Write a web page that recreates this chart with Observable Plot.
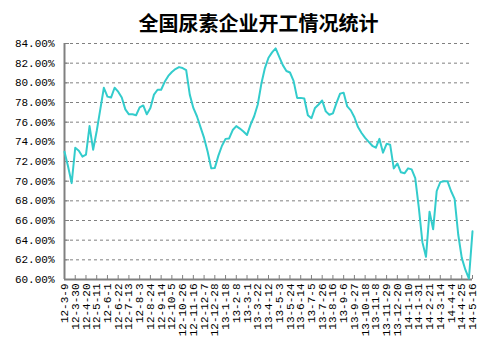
<!DOCTYPE html>
<html>
<head>
<meta charset="utf-8">
<script src="https://cdn.jsdelivr.net/npm/d3@7"></script>
<script src="https://cdn.jsdelivr.net/npm/@observablehq/plot@0.6"></script>
<style>
  html, body { margin: 0; padding: 0; background: #fff; }
  #title { height: 30px; box-sizing: border-box; padding-top: 13px; width: 503px; text-align: center;
    font-family: "Noto Sans CJK SC", sans-serif; font-weight: 700; font-size: 20px; line-height: 20px;
    color: #000; padding-left: 14px; overflow: visible; position: relative; z-index: 2; }
  #chart svg { background: transparent !important; }
</style>
</head>
<body>
<div id="title">全国尿素企业开工情况统计</div>
<div id="chart"></div>
<script>
const tickLabels = ["12-3-9","12-3-30","12-4-20","12-5-11","12-6-1","12-6-22","12-7-13","12-8-3","12-8-24","12-9-14","12-10-5","12-10-26","12-11-16","12-12-7","12-12-28","13-1-18","13-2-8","13-3-1","13-3-22","13-4-12","13-5-3","13-5-24","13-6-14","13-7-5","13-7-26","13-8-16","13-9-6","13-9-27","13-10-18","13-11-8","13-11-29","13-12-20","14-1-10","14-1-31","14-2-21","14-3-14","14-4-4","14-4-25","14-5-16"];

const utilization = [
  73.0, 71.5, 69.8, 73.4, 73.1, 72.5, 72.7, 75.6, 73.2, 75.1,
  77.3, 79.5, 78.6, 78.5, 79.5, 79.1, 78.5, 77.3, 76.8, 76.8,
  76.7, 77.5, 77.7, 76.8, 77.45, 78.8, 79.3, 79.3, 80.1, 80.7,
  81.1, 81.4, 81.6, 81.5, 81.3, 78.8, 77.45, 76.6, 75.5, 74.4,
  73.0, 71.3, 71.35, 72.6, 73.6, 74.3, 74.35, 75.2, 75.6, 75.35,
  75.05, 74.7, 75.75, 76.6, 77.8, 79.9, 81.5, 82.55, 83.1, 83.5,
  82.65, 81.8, 81.2, 81.05, 80.2, 78.47, 78.47, 78.4, 76.7, 76.4,
  77.45, 77.8, 78.2, 77.1, 76.75, 76.9, 77.96, 78.9, 79.0, 77.6,
  77.2, 76.5, 75.5, 74.9, 74.4, 74.0, 73.6, 73.4, 74.3, 72.9,
  73.8, 73.7, 71.3, 71.8, 70.9, 70.8, 71.3, 71.2, 70.3, 67.3,
  63.8, 62.3, 66.9, 65.1, 69.0, 69.9, 70.0, 70.0, 69.0, 68.2,
  64.6, 62.2, 61.0, 60.1, 64.9
];

const yTicks = [60, 62, 64, 66, 68, 70, 72, 74, 76, 78, 80, 82, 84];
const labelEvery = 3;

const data = utilization.map((v, i) => ({i, v}));
const xTicks = tickLabels.map((_, k) => k * labelEvery);

const W = 503, H = 321, mT = 13, mB = 72, mL = 64, mR = 31;
const innerH = H - mT - mB, innerW = W - mL - mR;
const gray = "#808080";
const monoFont = "'Liberation Mono', 'DejaVu Sans Mono', monospace";

const chart = Plot.plot({
  width: W, height: H,
  marginTop: mT, marginBottom: mB, marginLeft: mL, marginRight: mR,
  style: {background: "transparent", fontFamily: monoFont, fontSize: "11px", color: "#000"},
  x: {type: "linear", domain: [0, utilization.length - 1]},
  y: {domain: [60, 84]},
  marks: [
    Plot.gridY(yTicks.filter(d => d > 60), {stroke: gray, strokeOpacity: 1, strokeDasharray: "3,3", strokeWidth: 1}),
    Plot.axisY(yTicks, {tickSize: 0, tickPadding: 10, tickFormat: d => d.toFixed(2) + "%", label: null, fill: "#000", fontSize: 11}),
    Plot.axisX(xTicks, {tickSize: 0, tickPadding: 4, tickRotate: -90, tickFormat: d => tickLabels[d / labelEvery], label: null, fill: "#000", fontSize: 11}),
    Plot.tickY(yTicks, {y: d => d, stroke: gray, strokeWidth: 1, insetRight: innerW - 5}),
    Plot.tickX(xTicks, {x: d => d, stroke: gray, strokeWidth: 1, insetTop: innerH - 4}),
    Plot.ruleX([0], {stroke: gray, strokeWidth: 2}),
    Plot.ruleY([60], {stroke: gray, strokeWidth: 2}),
    Plot.line(data, {x: "i", y: "v", stroke: "#33CCCC", strokeWidth: 2})
  ]
});
document.getElementById("chart").appendChild(chart);
</script>
</body>
</html>
